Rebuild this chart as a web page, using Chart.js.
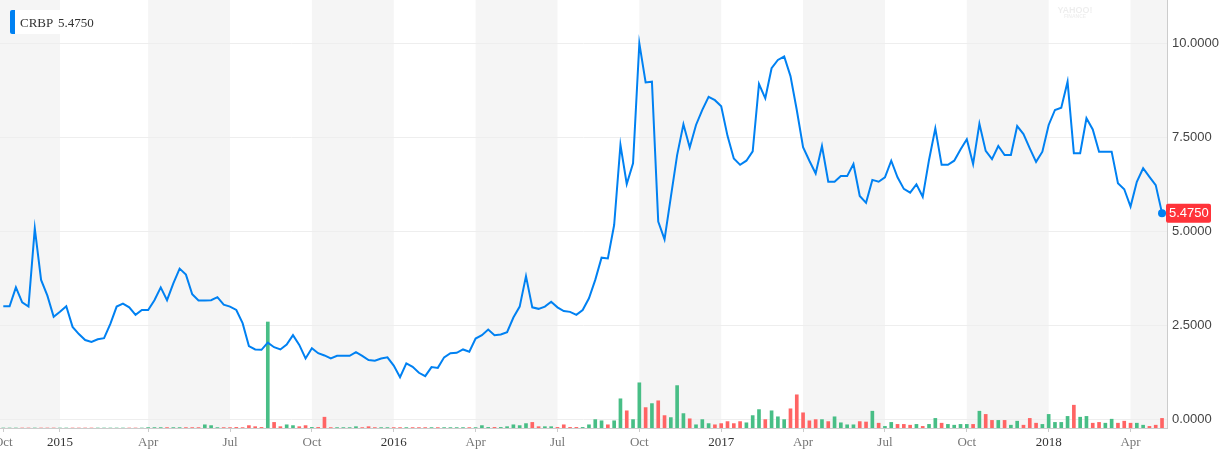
<!DOCTYPE html>
<html>
<head>
<meta charset="utf-8">
<script src="https://cdn.jsdelivr.net/npm/chart.js@4/dist/chart.umd.min.js"></script>
<style>
html,body{margin:0;padding:0;background:#fff;overflow:hidden}
#wrap{width:1220px;height:458px;position:relative}
</style>
</head>
<body>
<div id="wrap"><canvas id="c" width="1220" height="458"></canvas></div>
<script>
// ---- data (weekly, first week = late Oct 2014) ----
const symbol = 'CRBP';
const closePrices = [
  3.00,3.00,3.50,3.10,2.99,5.07,3.70,3.28,2.72,2.85,
  3.00,2.45,2.26,2.10,2.05,2.12,2.15,2.53,2.99,3.07,
  2.97,2.77,2.90,2.90,3.16,3.50,3.16,3.61,4.00,3.84,
  3.32,3.15,3.15,3.16,3.24,3.04,2.99,2.90,2.55,1.94,
  1.85,1.84,2.03,1.91,1.85,1.98,2.23,1.97,1.61,1.88,
  1.75,1.69,1.61,1.68,1.68,1.68,1.78,1.68,1.57,1.55,
  1.61,1.64,1.42,1.11,1.48,1.39,1.23,1.14,1.38,1.36,
  1.64,1.75,1.76,1.85,1.79,2.14,2.23,2.38,2.23,2.25,
  2.31,2.70,2.99,3.80,2.97,2.93,2.99,3.12,2.97,2.87,
  2.85,2.77,2.90,3.21,3.70,4.29,4.27,5.16,7.29,6.25,
  6.80,9.99,8.95,8.97,5.25,4.78,5.90,7.02,7.84,7.22,
  7.82,8.22,8.57,8.48,8.32,7.53,6.93,6.76,6.87,7.12,
  8.91,8.53,9.33,9.55,9.64,9.12,8.22,7.23,6.87,6.53,
  7.26,6.31,6.31,6.46,6.46,6.78,5.93,5.75,6.36,6.31,
  6.43,6.87,6.43,6.12,6.02,6.24,5.91,6.89,7.73,6.76,
  6.76,6.87,7.17,7.44,6.78,7.85,7.13,6.91,7.26,7.02,
  7.02,7.79,7.58,7.20,6.84,7.11,7.82,8.22,8.28,8.97,
  7.07,7.07,8.00,7.70,7.11,7.11,7.11,6.27,6.11,5.65,
  6.31,6.67,6.44,6.22,5.475
];
// weekly volume, millions of shares (estimated)
const volumes = [
  0,0,0,0,0,0,0,0,0,0,
  0,0,0,0,0,0,0,0,0,0,
  0,0,0,0.1,0.1,0.1,0.1,0.1,0.1,0.1,
  0.1,0.1,0.8,0.6,0.1,0.1,0.1,0.15,0.1,0.6,
  0.33,0.15,26.5,1.4,0.33,0.8,0.6,0.33,0.6,0.15,
  0.15,2.7,0.1,0.1,0.1,0.1,0.33,0.1,0.33,0.1,
  0.1,0.1,0.1,0.1,0.1,0.1,0.1,0.1,0.1,0.1,
  0.1,0.1,0.1,0.1,0.1,0.1,0.6,0.15,0.15,0.15,
  0.33,0.8,0.6,1.1,1.4,0.33,0.33,0.33,0.15,0.8,
  0.15,0.15,0.15,0.8,2.1,1.8,0.8,1.8,7.3,4.3,
  2.1,11.3,5.1,6.1,6.8,3.1,2.6,10.6,3.6,2.3,
  0.8,2.1,1.1,0.8,1.1,1.6,1.1,1.6,1.3,3.1,
  4.6,2.1,4.3,2.8,2.1,4.8,8.3,3.8,1.8,2.1,
  2.1,1.6,2.8,1.3,0.8,0.8,1.6,1.5,4.2,1.2,
  0.4,1.4,0.9,0.9,0.7,0.9,0.4,0.9,2.4,1.2,
  0.9,0.7,0.9,0.9,0.9,4.2,3.4,1.9,1.9,1.9,
  0.7,1.7,0.7,2.4,1.2,0.9,3.4,1.4,1.4,2.9,
  5.7,2.7,2.9,1.2,1.4,1.2,2.2,1.2,1.7,1.2,
  1.2,0.7,0.4,0.7,2.4
];
const tickWeeks  = [0, 9, 23, 36, 49, 62, 75, 88, 101, 114, 127, 140, 153, 166, 179];
const tickLabels = ['Oct','2015','Apr','Jul','Oct','2016','Apr','Jul','Oct','2017','Apr','Jul','Oct','2018','Apr'];
const priceTicks = [0, 2.5, 5, 7.5, 10];

// ---- styles ----
const BLUE = '#0081f2', GREEN = '#48be86', RED = '#ff6464', BAND = '#f5f5f5';
const lastIdx = closePrices.length - 1;
const lastPrice = closePrices[lastIdx];

const barColors = volumes.map((v, i) =>
  (i === 0 || closePrices[i] >= closePrices[i - 1]) ? GREEN : RED);

const bandsPlugin = {
  id: 'bands',
  beforeDraw(chart) {
    const {ctx, chartArea: a, scales: {x}} = chart;
    ctx.save();
    ctx.fillStyle = BAND;
    for (let k = 0; k < tickWeeks.length; k += 2) {
      const x0 = k === 0 ? a.left : x.getPixelForValue(tickWeeks[k]);
      const x1 = (k + 1 < tickWeeks.length) ? x.getPixelForValue(tickWeeks[k + 1]) : a.right;
      ctx.fillRect(x0, a.top, x1 - x0, a.bottom - a.top);
    }
    ctx.restore();
  }
};

const overlayPlugin = {
  id: 'overlay',
  afterDraw(chart) {
    const {ctx, chartArea: a, scales: {y}} = chart;
    ctx.save();
    // watermark
    ctx.fillStyle = 'rgba(0,0,0,0.07)';
    ctx.textAlign = 'center';
    ctx.textBaseline = 'alphabetic';
    ctx.font = 'bold 9px "Liberation Sans"';
    ctx.fillText('YAHOO!', 1075, 13);
    ctx.font = 'bold 5px "Liberation Sans"';
    ctx.fillText('FINANCE', 1075, 18);
    // legend box
    ctx.fillStyle = '#ffffff';
    ctx.fillRect(10, 10, 88, 24);
    ctx.fillStyle = BLUE;
    ctx.beginPath();
    ctx.roundRect(10, 10, 5, 24, [2, 0, 0, 2]);
    ctx.fill();
    ctx.fillStyle = '#333333';
    ctx.textAlign = 'left';
    ctx.font = '13px "Liberation Serif"';
    ctx.fillText(symbol, 20, 27);
    ctx.fillText(lastPrice.toFixed(4), 58, 27);
    // last price tag
    const py = y.getPixelForValue(lastPrice);
    ctx.fillStyle = '#ff333a';
    ctx.beginPath();
    ctx.roundRect(a.right - 1, py - 9.5, 45, 19, 2);
    ctx.fill();
    ctx.fillStyle = '#ffffff';
    ctx.font = '13px "Liberation Sans"';
    ctx.textBaseline = 'middle';
    ctx.fillText(lastPrice.toFixed(4), a.right + 2, py + 0.5);
    ctx.restore();
  }
};

new Chart(document.getElementById('c'), {
  data: {
    datasets: [
      {
        type: 'line',
        label: symbol,
        data: closePrices.map((v, i) => ({x: i, y: v})),
        yAxisID: 'y',
        borderColor: BLUE,
        borderWidth: 2,
        tension: 0,
        pointRadius: ctx => ctx.dataIndex === lastIdx ? 4 : 0,
        pointBackgroundColor: BLUE,
        pointBorderWidth: 0,
        order: 1
      },
      {
        type: 'bar',
        label: 'Volume',
        data: volumes.map((v, i) => ({x: i, y: v})),
        yAxisID: 'yv',
        backgroundColor: barColors,
        barThickness: 3,
        order: 2
      }
    ]
  },
  options: {
    responsive: false,
    devicePixelRatio: 1,
    animation: false,
    layout: {padding: 0, autoPadding: false},
    plugins: {legend: {display: false}, tooltip: {enabled: false}},
    scales: {
      x: {
        type: 'linear',
        offset: false,
        min: -0.524,
        max: 184.79,
        afterBuildTicks: s => { s.ticks = tickWeeks.map(v => ({value: v})); },
        afterFit: s => { s.height = 30; s.paddingLeft = 0; s.paddingRight = 0; s.paddingTop = 0; s.paddingBottom = 0; },
        grid: {drawOnChartArea: false, drawTicks: true, tickLength: 4, tickColor: '#cccccc', offset: false},
        border: {color: '#cccccc'},
        ticks: {
          autoSkip: false,
          maxRotation: 0,
          padding: 3,
          font: {family: '"Liberation Serif"', size: 13},
          color: ctx => /^\d{4}$/.test(tickLabels[ctx.index]) ? '#333333' : '#777777',
          callback: (v, i) => tickLabels[i]
        }
      },
      y: {
        position: 'right',
        min: -0.239,
        max: 11.144,
        afterBuildTicks: s => { s.ticks = priceTicks.map(v => ({value: v})); },
        afterFit: s => { s.width = 53; s.paddingTop = 0; s.paddingBottom = 0; s.paddingLeft = 0; s.paddingRight = 0; },
        grid: {color: '#eeeeee', drawTicks: false},
        border: {color: '#cccccc'},
        ticks: {
          padding: 5,
          font: {family: '"Liberation Sans"', size: 13},
          color: '#444444',
          callback: v => Number(v).toFixed(4)
        }
      },
      yv: {
        display: false,
        min: 0,
        max: 107
      }
    }
  },
  plugins: [bandsPlugin, overlayPlugin]
});
</script>
</body>
</html>
